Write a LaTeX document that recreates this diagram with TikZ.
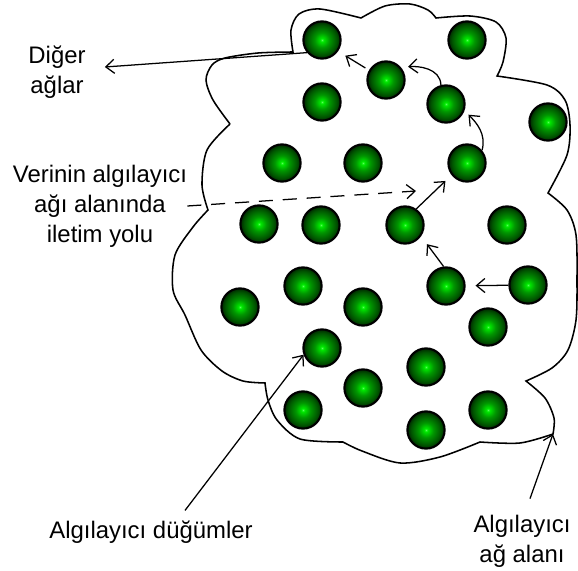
\documentclass[tikz,border=0pt]{standalone}
\usepackage{fontspec}
\setmainfont{Liberation Sans}
\usepackage{tikz}
\usetikzlibrary{arrows.meta}
\definecolor{ballhi}{RGB}{90,255,90}
\definecolor{ballmid}{RGB}{0,235,0}
\definecolor{ballshade}{RGB}{0,150,0}
\definecolor{balldeep}{RGB}{0,85,0}
\definecolor{balldark}{RGB}{0,40,0}
\pgfdeclareradialshading{sensorshade}{\pgfpoint{0bp}{0bp}}{color(0bp)=(ballhi); color(2bp)=(ballmid); color(10bp)=(ballshade); color(20bp)=(balldeep); color(25bp)=(balldark); color(50bp)=(balldark)}

\begin{document}
\begin{tikzpicture}[x=0.025cm, y=-0.025cm,
        sensor/.style={circle, draw=black, line width=1.5pt, shading=sensorshade, minimum size=0.93cm, inner sep=0pt},
        txt/.style={align=center, inner sep=0pt, font=\fontsize{17}{21.3}\selectfont},
        arr/.style={-{Straight Barb[length=6pt,width=10pt]}, line width=0.9pt},
        field/.style={line width=1.1pt}
    ]
        \useasboundingbox (0,0) rectangle (578,571);
        % sensor field outline
        \draw[field] plot[smooth] coordinates {(230,124) (213,100) (206,80) (212,65) (225,58) (258,53) (293,52)}
            -- plot[smooth] coordinates {(293,52) (291,30) (299,14) (320,9) (361,18)}
            -- plot[smooth] coordinates {(361,18) (385,6) (410,4) (428,10) (436,18)}
            -- plot[smooth] coordinates {(436,18) (470,16) (496,22) (506,38) (503,62) (497,76)}
            -- plot[smooth] coordinates {(497,76) (547,85) (565,100) (570,125) (567,155) (548,193)}
            -- plot[smooth] coordinates {(548,193) (567,210) (576,235) (577,280) (576,320) (568,350) (552,368) (526,381)}
            -- plot[smooth] coordinates {(526,381) (545,398) (554,418) (553,434)}
            -- plot[smooth] coordinates {(553,434) (520,443) (480,442)}
            -- plot[smooth] coordinates {(480,442) (440,457) (400,463) (362,451) (343,442)}
            -- plot[smooth] coordinates {(343,442) (300,439) (277,420) (268,400) (265,383)}
            -- plot[smooth] coordinates {(265,383) (243,381) (222,371) (201,350) (185,315) (173,290) (175,255) (193,227) (208,210)}
            -- plot[smooth] coordinates {(208,210) (202,185) (207,150) (230,124)};

        % sensors
        \node[sensor] (s1) at (322,40) {};
        \node[sensor] (s2) at (467,40) {};
        \node[sensor] (s3) at (386,80) {};
        \node[sensor] (s4) at (322,102) {};
        \node[sensor] (s5) at (446,104) {};
        \node[sensor] (s6) at (548,122) {};
        \node[sensor] (s7) at (282,163) {};
        \node[sensor] (s8) at (363,163) {};
        \node[sensor] (s9) at (467,163) {};
        \node[sensor] (s10) at (259,224) {};
        \node[sensor] (s11) at (321,225) {};
        \node[sensor] (s12) at (405,225) {};
        \node[sensor] (s13) at (507,225) {};
        \node[sensor] (s14) at (240,307) {};
        \node[sensor] (s15) at (303,286) {};
        \node[sensor] (s16) at (363,307) {};
        \node[sensor] (s17) at (446,286) {};
        \node[sensor] (s18) at (528,285) {};
        \node[sensor] (s19) at (488,327) {};
        \node[sensor] (s20) at (322,348) {};
        \node[sensor] (s21) at (426,367) {};
        \node[sensor] (s22) at (363,388) {};
        \node[sensor] (s23) at (303,410) {};
        \node[sensor] (s24) at (426,430) {};
        \node[sensor] (s25) at (488,410) {};

        % labels
        \node[txt] (diger) at (57,72) {Diğer\\ağlar};
        \node[txt] (yol) at (100,206) {Verinin algılayıcı\\ağı alanında\\iletim yolu};
        \node[txt] (dugum) at (151,532) {Algılayıcı düğümler};
        \node[txt] (alan) at (522,541) {Algılayıcı\\ağ alanı};
        \coordinate (hop) at (416,191);
        \coordinate (rim) at (553,434);

        % data path
        \draw[arr, shorten >=7pt] (s18) -- (s17);
        \draw[arr, shorten >=7pt] (s17.97) -- (s12.-35);
        \draw[arr, shorten >=6pt] (s12.55) -- (s9.218);
        \draw[arr, shorten >=4pt] (s9.40) to[out=75, in=-45] (s5.-20);
        \draw[arr, shorten >=5pt] (s5.105) to[out=92, in=5] (s3.40);
        \draw[arr, shorten <=3pt, shorten >=6pt] (s3.150) -- (s1.-35);
        \draw[arr] (s1.220) -- ([shift={(19,-5)}]diger.east);

        % pointers
        \draw[arr, dash pattern=on 10pt off 7pt] (yol.east) -- (hop);
        \draw[arr] (dugum.north) ++(34,-10) -- (s20.200);
        \draw[arr] (alan.north) ++(8,-16) -- (rim);
    \end{tikzpicture}
\end{document}
